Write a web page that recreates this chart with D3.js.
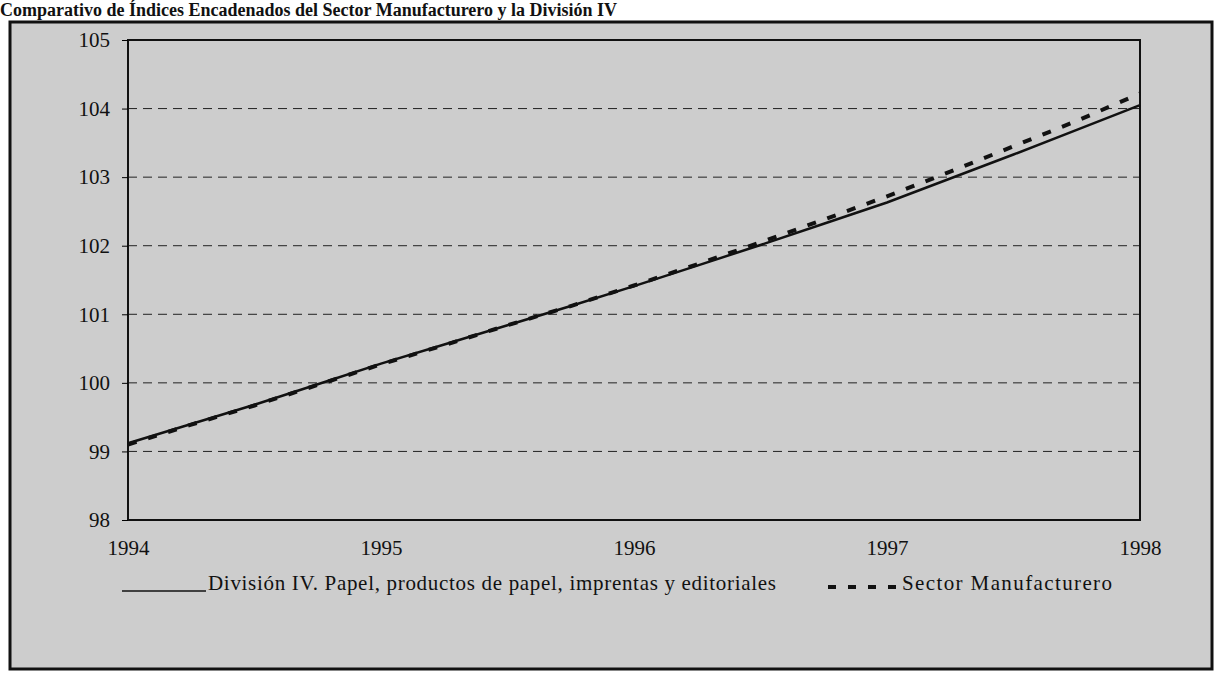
<!DOCTYPE html>
<html lang="en">
<head>
<meta charset="utf-8">
<script src="https://cdn.jsdelivr.net/npm/d3@7/dist/d3.min.js"></script>
<style>
  body { margin: 0; background: #fff; }
  svg { display: block; }
  text { font-family: "Liberation Serif", "Times New Roman", serif; fill: #111; }
</style>
</head>
<body>
<script>
  // quarterly points, 1994 .. 1998
  var quarters = [1994, 1994.25, 1994.5, 1994.75, 1995, 1995.25, 1995.5, 1995.75, 1996,
                  1996.25, 1996.5, 1996.75, 1997, 1997.25, 1997.5, 1997.75, 1998];
  var division = [99.12, 99.40, 99.68, 99.98, 100.28, 100.56, 100.84, 101.12, 101.41,
                  101.71, 102.01, 102.32, 102.63, 102.98, 103.33, 103.69, 104.05];
  var sector = [99.10, 99.39, 99.67, 99.97, 100.27, 100.55, 100.84, 101.12, 101.42,
                101.73, 102.05, 102.38, 102.72, 103.08, 103.45, 103.82, 104.22];
  var yTicks = [98, 99, 100, 101, 102, 103, 104, 105];
  var xTicks = [1994, 1995, 1996, 1997, 1998];
  var title = "Comparativo de Índices Encadenados del Sector Manufacturero y la División IV";
  var legendLabels = ["División IV. Papel, productos de papel, imprentas y editoriales", "Sector Manufacturero"];

  const W = 1217, H = 675;
  const plot = {left: 128, top: 40, right: 1140, bottom: 520};
  const serif = '"Liberation Serif", "Times New Roman", serif';

  const svg = d3.select("body").append("svg")
    .attr("width", W)
    .attr("height", H);

  // grey page (halftone in the scan)
  svg.append("rect")
    .attr("x", 10).attr("y", 22)
    .attr("width", 1202).attr("height", 647)
    .attr("fill", "#cdcdcd")
    .attr("stroke", "#111")
    .attr("stroke-width", 3);

  svg.append("text")
    .attr("x", 0).attr("y", 16)
    .style("font-size", "18px")
    .style("font-weight", "bold")
    .text(title);

  const x = d3.scaleLinear().domain([1994, 1998]).range([plot.left, plot.right]);
  const y = d3.scaleLinear().domain([98, 105]).range([plot.bottom, plot.top]);

  // dashed grid
  svg.append("g").selectAll("line")
    .data(yTicks.filter(d => d > 98 && d < 105))
    .enter().append("line")
    .attr("x1", plot.left).attr("x2", plot.right)
    .attr("y1", d => y(d)).attr("y2", d => y(d))
    .attr("stroke", "#222")
    .attr("stroke-width", 1)
    .attr("stroke-dasharray", "9,6");

  // plot border
  svg.append("rect")
    .attr("x", plot.left).attr("y", plot.top)
    .attr("width", plot.right - plot.left).attr("height", plot.bottom - plot.top)
    .attr("fill", "none")
    .attr("stroke", "#111")
    .attr("stroke-width", 2);

  const yAxis = d3.axisLeft(y).tickValues(yTicks).tickSize(6).tickPadding(12).tickFormat(d3.format("d"));
  const gy = svg.append("g")
    .attr("transform", "translate(" + plot.left + ",0)")
    .call(yAxis)
    .attr("font-family", serif)
    .attr("font-size", 21);
  gy.select(".domain").remove();
  gy.selectAll("text").style("font-family", serif).style("font-size", "21px");

  const xAxis = d3.axisBottom(x).tickValues(xTicks).tickSize(0).tickPadding(20).tickFormat(d3.format("d"));
  const gx = svg.append("g")
    .attr("transform", "translate(0," + plot.bottom + ")")
    .call(xAxis)
    .attr("font-family", serif)
    .attr("font-size", 21);
  gx.select(".domain").remove();
  gx.selectAll("text").style("font-family", serif).style("font-size", "21px");

  const line = d3.line()
    .x((d, i) => x(quarters[i]))
    .y(d => y(d));

  svg.append("path")
    .datum(sector)
    .attr("d", line)
    .attr("fill", "none")
    .attr("stroke", "#111")
    .attr("stroke-width", 4)
    .attr("stroke-dasharray", "9,12");

  svg.append("path")
    .datum(division)
    .attr("d", line)
    .attr("fill", "none")
    .attr("stroke", "#111")
    .attr("stroke-width", 2.5);

  // legend
  const legend = svg.append("g").attr("id", "legend");
  legend.append("line")
    .attr("x1", 122).attr("x2", 206).attr("y1", 591).attr("y2", 591)
    .attr("stroke", "#111").attr("stroke-width", 1.5);
  legend.append("text")
    .attr("x", 208).attr("y", 590)
    .attr("textLength", 568)
    .attr("lengthAdjust", "spacing")
    .style("font-size", "21px")
    .text(legendLabels[0]);
  legend.append("line")
    .attr("x1", 828).attr("x2", 900).attr("y1", 587).attr("y2", 587)
    .attr("stroke", "#111").attr("stroke-width", 4)
    .attr("stroke-dasharray", "8,12");
  legend.append("text")
    .attr("x", 902).attr("y", 590)
    .attr("textLength", 210)
    .attr("lengthAdjust", "spacing")
    .style("font-size", "21px")
    .text(legendLabels[1]);
</script>
</body>
</html>
